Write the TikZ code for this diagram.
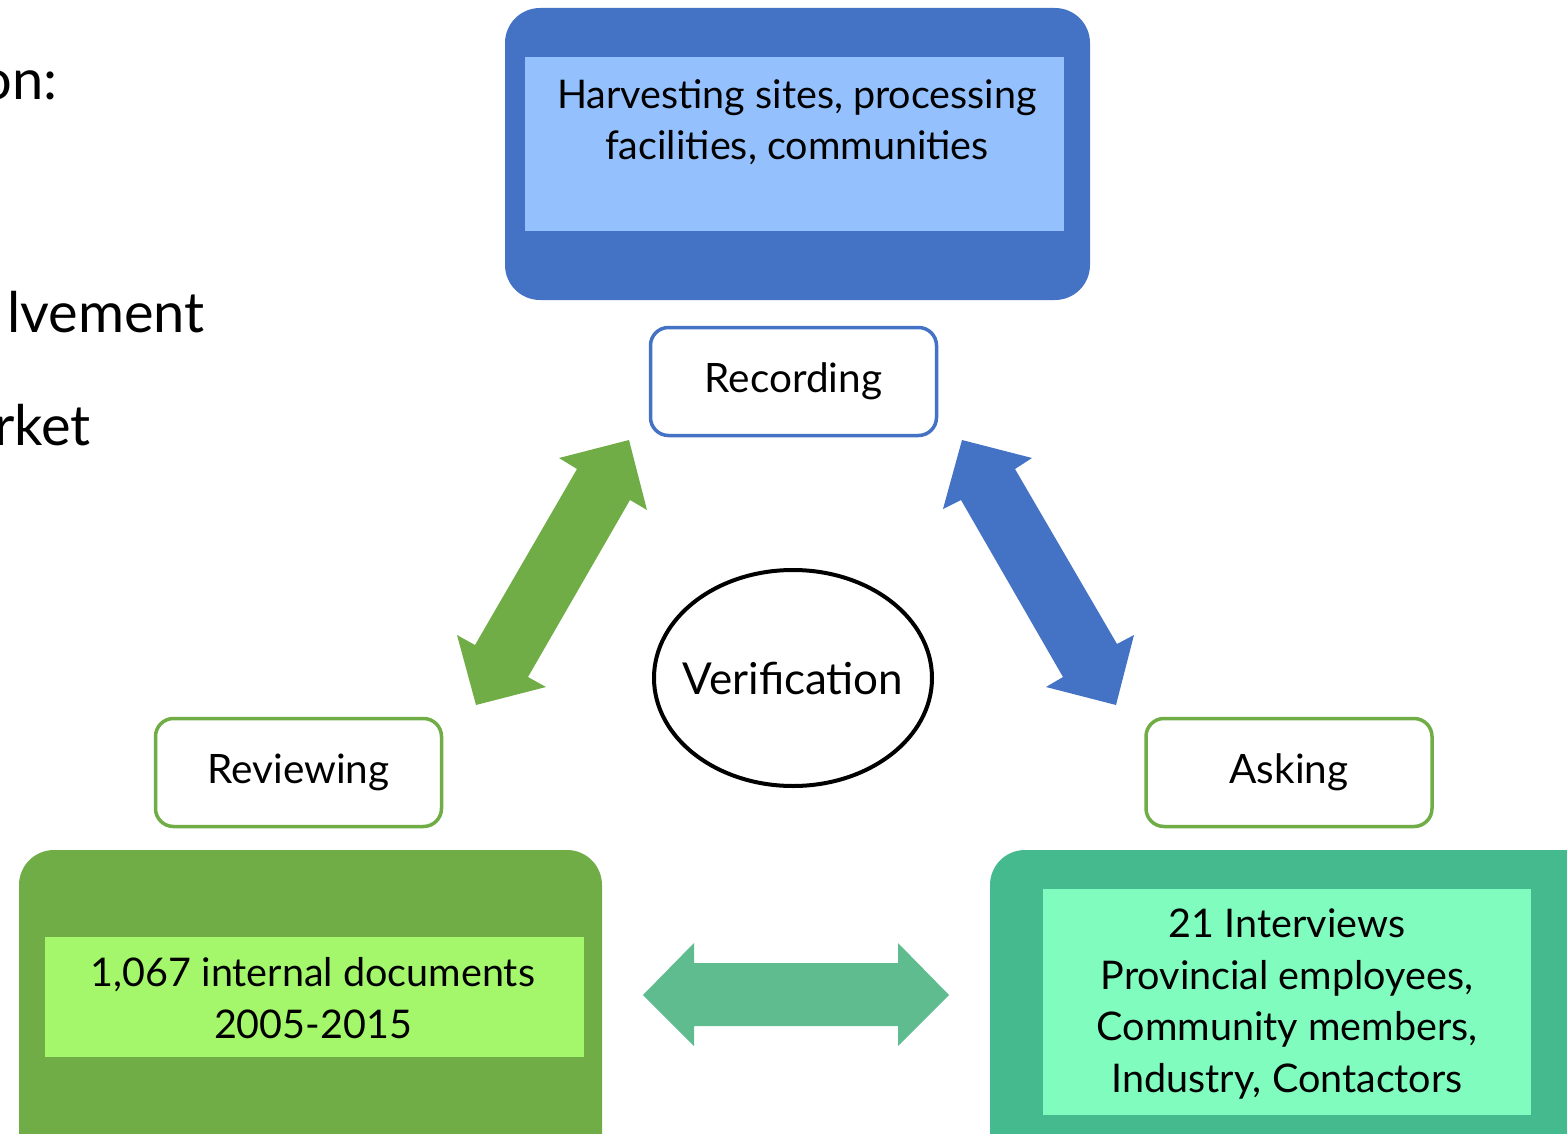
\documentclass[tikz,border=0pt]{standalone}
\usepackage{fontspec}
\setmainfont{Lato}
\usetikzlibrary{shapes.geometric}
\definecolor{blueD}{HTML}{4472C4}
\definecolor{blueL}{HTML}{94C1FE}
\definecolor{greenD}{HTML}{70AD47}
\definecolor{greenL}{HTML}{A4F76A}
\definecolor{tealD}{HTML}{44BA8E}
\definecolor{tealL}{HTML}{80FCBF}
\definecolor{tealA}{HTML}{5EBC8F}
\newcommand{\fsz}[2]{\fontsize{#1}{#2}\selectfont}
\begin{document}
\begin{tikzpicture}[x=1pt,y=-1pt,
  outerbox/.style={rounded corners=35pt, inner sep=0pt},
  innerbox/.style={inner sep=0pt},
  labelbox/.style={draw, line width=3.5pt, fill=white, rounded corners=18pt,
    minimum width=286pt, minimum height=108pt, inner sep=0pt, font=\fsz{40.5}{48}},
  bodytext/.style={align=center, font=\fsz{39.5}{51.5}, inner sep=0pt},
  sidetext/.style={font=\fsz{56}{64}, inner sep=0pt, anchor=base east}]
\useasboundingbox (0,0) rectangle (1567,1134);
\clip (0,0) rectangle (1567,1134);

% left cut-off text
\node[sidetext] (t1) at (58,100) {on:};
\node[sidetext] (t2) at (205,332) {lvement};
\node[sidetext] (t3) at (91,445) {rket};

% top box
\node[outerbox, fill=blueD, minimum width=585pt, minimum height=292pt] (topouter) at (797.5,154) {};
\node[innerbox, fill=blueL, minimum width=539pt, minimum height=174pt] (topinner) at (794.5,144) {};
\node[bodytext] (toptext) at (797,122) {Harvesting sites, processing\\facilities, communities};

% bottom left box
\node[outerbox, fill=greenD, minimum width=583pt, minimum height=330pt] (blouter) at (310.5,1015) {};
\node[innerbox, fill=greenL, minimum width=539pt, minimum height=120pt] (blinner) at (314.5,997) {};
\node[bodytext] (bltext) at (313,998) {1,067 internal documents\\2005-2015};

% bottom right box
\node[outerbox, fill=tealD, minimum width=620pt, minimum height=330pt] (brouter) at (1300,1015) {};
\node[innerbox, fill=tealL, minimum width=488pt, minimum height=226pt] (brinner) at (1287,1002) {};
\node[bodytext] (brtext) at (1287,1004) {21 Interviews\\Provincial employees,\\Community members,\\Industry, Contactors};

% label boxes
\node[labelbox, draw=blueD] (recording) at (793.5,381.5) {Recording};
\node[labelbox, draw=greenD] (reviewing) at (298.5,772.5) {Reviewing};
\node[labelbox, draw=greenD] (asking) at (1289,772.5) {Asking};

% centre ellipse
\node[ellipse, draw, line width=4pt, minimum width=278pt, minimum height=216pt,
  inner sep=0pt] (verif) at (793,678) {};
\node[font=\fsz{44}{52}, inner sep=0pt] (veriftext) at (verif.center) {Verification};

% block arrows
\fill[greenD] (629,440) -- (647,510) -- (630,500) -- (528,677) -- (546,687)
  -- (476,705) -- (457,635) -- (475,645) -- (577,469) -- (559,458) -- cycle;
\fill[blueD] (962,440) -- (1032,458) -- (1015,469) -- (1117,644) -- (1134,635)
  -- (1116,705) -- (1046,687) -- (1063,677) -- (961,500) -- (943,509) -- cycle;
\fill[tealA] (643,995) -- (694,943) -- (694,963) -- (898,963) -- (898,943)
  -- (949,995) -- (898,1046) -- (898,1026) -- (694,1026) -- (694,1046) -- cycle;
\end{tikzpicture}
\end{document}
